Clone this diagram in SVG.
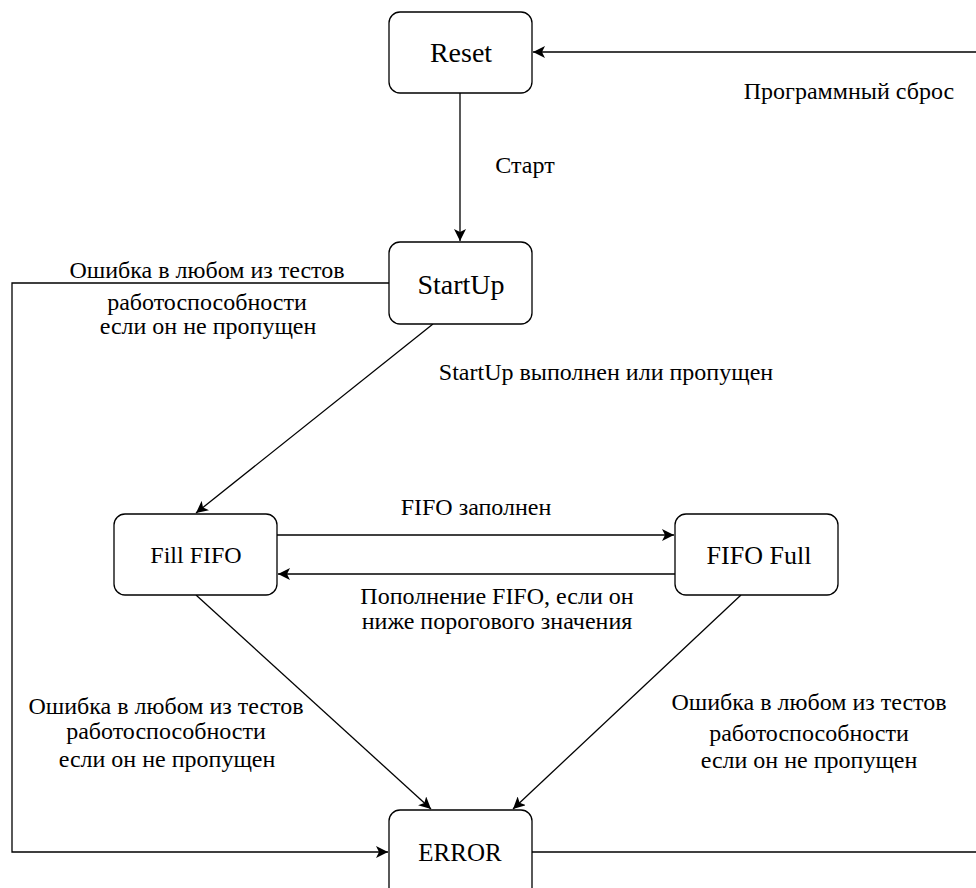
<svg xmlns="http://www.w3.org/2000/svg" width="976" height="888" viewBox="0 0 976 888">
<style>
.node rect{fill:#fff;stroke:#000;stroke-width:1.3}
.nt{font-family:"Liberation Serif","Times New Roman",serif;font-size:28px;text-anchor:middle;fill:#000}
.lb{font-family:"Liberation Serif","Times New Roman",serif;font-size:24px;text-anchor:middle;fill:#000}
.ln{fill:none;stroke:#000;stroke-width:1.3}
</style>
<defs>
<marker id="ah" viewBox="0 0 10 10" refX="10" refY="5" markerWidth="12" markerHeight="12" markerUnits="userSpaceOnUse" orient="auto">
<path d="M0,0 L10,5 L0,10 L2.5,5 Z" fill="#000"/>
</marker>
</defs>
<g id="connectors">
<path class="ln" d="M976,52 L533,52" marker-end="url(#ah)"/>
<path class="ln" d="M460,93 L460,241" marker-end="url(#ah)"/>
<path class="ln" d="M389,283 L12,283 L12,852 L388,852" marker-end="url(#ah)"/>
<path class="ln" d="M433,324 L196,513" marker-end="url(#ah)"/>
<path class="ln" d="M277,535 L674,535" marker-end="url(#ah)"/>
<path class="ln" d="M675,574 L278,574" marker-end="url(#ah)"/>
<path class="ln" d="M196,595 L431,809" marker-end="url(#ah)"/>
<path class="ln" d="M741,595 L513,809" marker-end="url(#ah)"/>
<path class="ln" d="M532,852 L976,852"/>
</g>
<g id="labels">
<text class="lb" x="849" y="99">Программный сброс</text>
<text class="lb" x="525" y="173">Старт</text>
<text class="lb" x="207" y="278">Ошибка в любом из тестов</text>
<text class="lb" x="207" y="310">работоспособности</text>
<text class="lb" x="208" y="334">если он не пропущен</text>
<text class="lb" x="606" y="380">StartUp выполнен или пропущен</text>
<text class="lb" x="476" y="515">FIFO заполнен</text>
<text class="lb" x="497" y="604">Пополнение FIFO, если он</text>
<text class="lb" x="497" y="629">ниже порогового значения</text>
<text class="lb" x="166" y="714">Ошибка в любом из тестов</text>
<text class="lb" x="166" y="739">работоспособности</text>
<text class="lb" x="167" y="767">если он не пропущен</text>
<text class="lb" x="809" y="710">Ошибка в любом из тестов</text>
<text class="lb" x="809" y="741">работоспособности</text>
<text class="lb" x="809" y="768">если он не пропущен</text>
</g>
<g id="reset" class="node"><rect x="389" y="12" width="143" height="81" rx="11"/><text class="nt" x="461" y="62">Reset</text></g>
<g id="startup" class="node"><rect x="389" y="242" width="143" height="82" rx="11"/><text class="nt" x="461" y="294">StartUp</text></g>
<g id="fillfifo" class="node"><rect x="114" y="514" width="163" height="81" rx="11"/><text class="nt" x="196" y="563" style="font-size:24px">Fill FIFO</text></g>
<g id="fifofull" class="node"><rect x="675" y="514" width="163" height="81" rx="11"/><text class="nt" x="759" y="564" style="font-size:26px">FIFO Full</text></g>
<g id="error" class="node"><rect x="389" y="810" width="143" height="90" rx="11"/><text class="nt" x="460" y="861" style="font-size:25px">ERROR</text></g>
</svg>
